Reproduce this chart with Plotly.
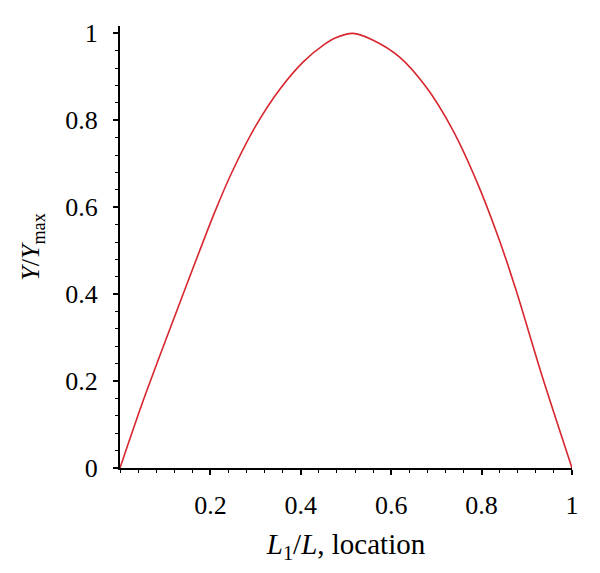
import plotly.graph_objects as go

# Data
location = [0, 0.052, 0.136, 0.21, 0.251, 0.302, 0.354, 0.406, 0.45, 0.48,
            0.515, 0.559, 0.618, 0.677, 0.736, 0.791, 0.839, 0.876, 0.934, 1.0]
ratio = [0, 0.157, 0.39, 0.59, 0.688, 0.79, 0.872, 0.935, 0.973, 0.991,
         1.0, 0.985, 0.946, 0.877, 0.778, 0.655, 0.525, 0.41, 0.211, 0]

x_ticks = [0.2, 0.4, 0.6, 0.8, 1]
x_tick_labels = ["0.2", "0.4", "0.6", "0.8", "1"]
y_ticks = [0, 0.2, 0.4, 0.6, 0.8, 1]
y_tick_labels = ["0", "0.2", "0.4", "0.6", "0.8", "1"]

font_family = "Liberation Serif, DejaVu Serif, serif"

fig = go.Figure()
fig.add_trace(go.Scatter(x=location, y=ratio, mode="lines",
                         line=dict(color="#d7262e", width=1.6, shape="spline", smoothing=0.8),
                         showlegend=False))

axis_common = dict(
    showgrid=False, zeroline=False, showline=True, linecolor="black", linewidth=2,
    ticks="outside", ticklen=5, tickwidth=1.5, tickcolor="black",
    tickfont=dict(family=font_family, size=26, color="black"),
    minor=dict(dtick=0.04, ticks="outside", ticklen=3, tickwidth=1.2, tickcolor="black"),
)

fig.update_layout(
    width=592, height=565,
    margin=dict(l=112, r=28, t=18, b=105),
    paper_bgcolor="white", plot_bgcolor="white",
    font=dict(family=font_family, color="black", size=26),
    xaxis=dict(range=[0, 1], tickvals=x_ticks, ticktext=x_tick_labels,
               ticklabelstandoff=8,
               title=dict(text="<i>L</i><sub>1</sub>/<i>L</i>, location",
                          font=dict(family=font_family, size=29), standoff=14),
               **axis_common),
    yaxis=dict(range=[0, 1.017], tickvals=y_ticks, ticktext=y_tick_labels,
               ticklabelstandoff=10,
               title=dict(text="<i>Y</i>/<i>Y</i><sub>max</sub>",
                          font=dict(family=font_family, size=26), standoff=18),
               **axis_common),
)

fig.write_html("out.html")
